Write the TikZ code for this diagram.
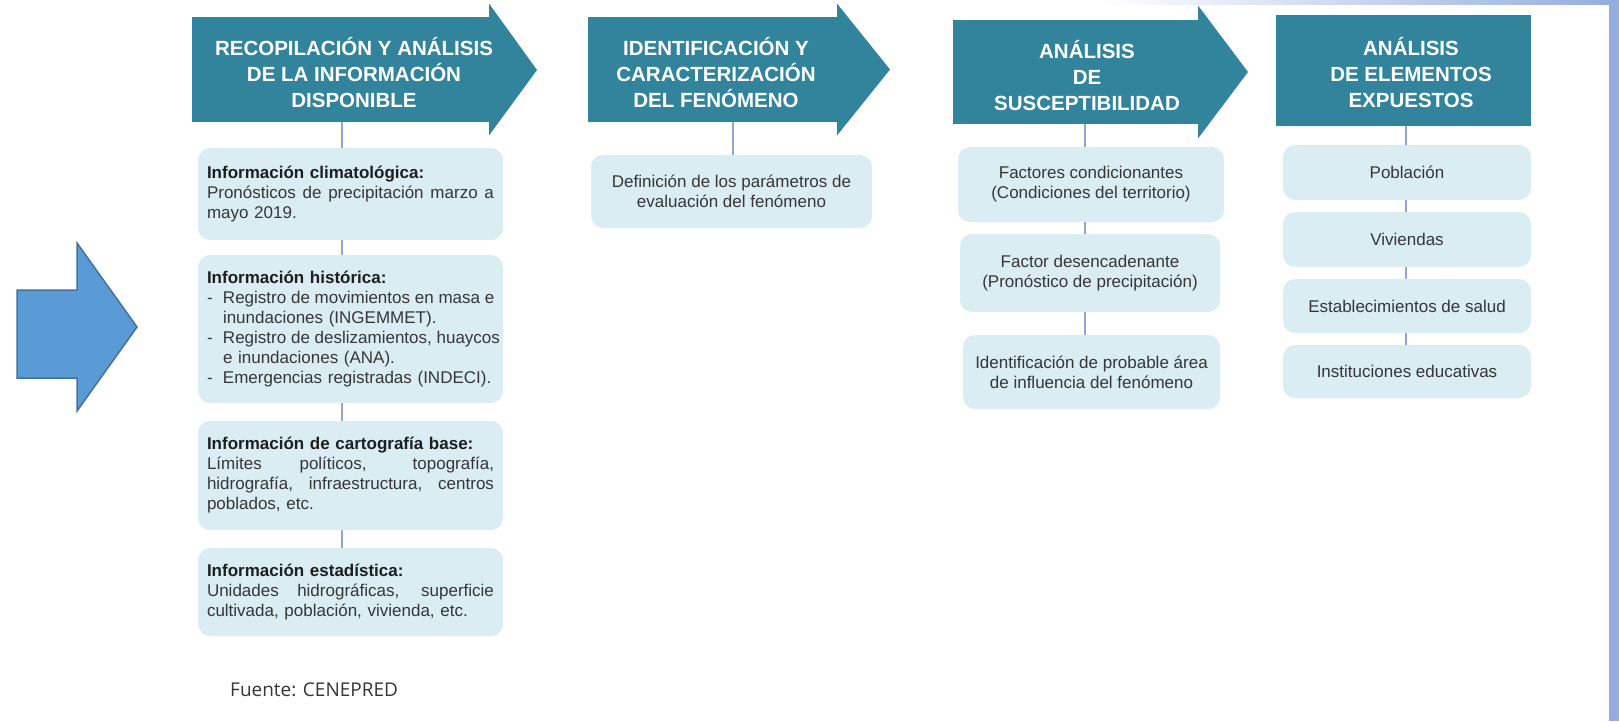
\documentclass[tikz,border=0pt]{standalone}
\usepackage{fontspec}
\setmainfont{Liberation Sans}
\newfontfamily\fuentefont{Open Sans}
\usetikzlibrary{calc}
\definecolor{hdrteal}{HTML}{31849B}
\definecolor{boxfill}{HTML}{DAEDF3}
\definecolor{connblue}{HTML}{8EA6D2}
\definecolor{bodygray}{HTML}{363636}
\definecolor{headdark}{HTML}{1E1E1E}
\definecolor{stripblue}{HTML}{94ACDF}
\definecolor{bigarrow}{HTML}{5B9BD5}
\definecolor{bigarrowline}{HTML}{41719C}
\newcommand{\jline}[2]{\leavevmode\hbox to #1{\spaceskip=0.28em plus 1fil\relax #2}}
\begin{document}
\begin{tikzpicture}[x=1pt,y=-1pt,
  hdrbox/.style={fill=hdrteal,draw=none,inner sep=0pt},
  hdrhead/.style={fill=hdrteal,draw=none},
  htxt/.style={text=white,font=\bfseries\fontsize{20.5}{26}\selectfont,align=center,inner sep=0pt},
  ibox/.style={fill=boxfill,draw=none,rounded corners=12pt,inner sep=0pt,text=bodygray,font=\fontsize{17}{20}\selectfont},
  lbox/.style={ibox,text width=287pt,align=left},
  cbox/.style={ibox,align=center},
  conn/.style={draw=connblue,line width=1.8pt}]
\useasboundingbox (0,0) rectangle (1619,721);
% background strips
\shade[left color=white,right color=stripblue] (1100,0) rectangle (1619,4.5);
\fill[stripblue] (1609,0) rectangle (1619,721);

% big left arrow
\draw[fill=bigarrow,draw=bigarrowline,line width=1.5pt,line join=miter]
  (17,290) -- (77,290) -- (77,243) -- (137,327) -- (77,411) -- (77,378) -- (17,378) -- cycle;

% header 1
\node[hdrbox,minimum width=298,minimum height=105] (h1) at (341,69.5) {};
\fill[hdrhead] ([xshift=-1pt]h1.north east) -- ([xshift=-1pt,yshift=13pt]h1.north east) -- (537,70) -- ([xshift=-1pt,yshift=-13pt]h1.south east) -- ([xshift=-1pt]h1.south east) -- cycle;
\node[htxt] (t1) at (354,73) {RECOPILACIÓN Y ANÁLISIS\\DE LA INFORMACIÓN\\DISPONIBLE};

% header 2
\node[hdrbox,minimum width=250,minimum height=105] (h2) at (713,69.5) {};
\fill[hdrhead] ([xshift=-1pt]h2.north east) -- ([xshift=-1pt,yshift=13pt]h2.north east) -- (890,69.5) -- ([xshift=-1pt,yshift=-13pt]h2.south east) -- ([xshift=-1pt]h2.south east) -- cycle;
\node[htxt] (t2) at (716,73) {IDENTIFICACIÓN Y\\CARACTERIZACIÓN\\DEL FENÓMENO};

% header 3
\node[hdrbox,minimum width=246,minimum height=104] (h3) at (1076,72) {};
\fill[hdrhead] ([xshift=-1pt]h3.north east) -- ([xshift=-1pt,yshift=14pt]h3.north east) -- (1248,72) -- ([xshift=-1pt,yshift=-14pt]h3.south east) -- ([xshift=-1pt]h3.south east) -- cycle;
\node[htxt] (t3) at (1087,76) {ANÁLISIS\\DE\\SUSCEPTIBILIDAD};

% header 4
\node[hdrbox,minimum width=255,minimum height=111] (h4) at (1403.5,70.5) {};
\node[htxt] (t4) at (1411,73) {ANÁLISIS\\DE ELEMENTOS\\EXPUESTOS};

% column 1
\node[lbox,minimum width=305,minimum height=92] (b11) at (350.5,194) {%
{\bfseries\color{headdark}Información climatológica:}\\
\jline{287pt}{Pronósticos de precipitación marzo a}\\
mayo 2019.};
\node[lbox,minimum width=305,minimum height=148] (b12) at (350.5,329) {%
{\bfseries\color{headdark}Información histórica:}\\
\makebox[16pt][l]{-}\jline{271pt}{Registro de movimientos en masa e}\\
\hspace*{16pt}inundaciones (INGEMMET).\\
\makebox[16pt][l]{-}\jline{271pt}{Registro de deslizamientos, huaycos}\\
\hspace*{16pt}e inundaciones (ANA).\\
\makebox[16pt][l]{-}Emergencias registradas (INDECI).};
\node[lbox,minimum width=305,minimum height=109] (b13) at (350.5,475.5) {%
{\bfseries\color{headdark}Información de cartografía base:}\\
\jline{287pt}{Límites políticos, topografía,}\\
\jline{287pt}{hidrografía, infraestructura, centros}\\
poblados, etc.};
\node[lbox,minimum width=305,minimum height=88] (b14) at (350.5,592) {%
{\bfseries\color{headdark}Información estadística:}\\
\jline{287pt}{Unidades hidrográficas, superficie}\\
cultivada, población, vivienda, etc.};
\coordinate (x1) at (342,0);
\draw[conn] (h1.south -| x1) -- (b11.north -| x1);
\draw[conn] (b11.south -| x1) -- (b12.north -| x1);
\draw[conn] (b12.south -| x1) -- (b13.north -| x1);
\draw[conn] (b13.south -| x1) -- (b14.north -| x1);

% column 2
\node[cbox,minimum width=281,minimum height=73] (b21) at (731.5,191.5) {Definición de los parámetros de\\evaluación del fenómeno};
\coordinate (x2) at (733,0);
\draw[conn] (h2.south -| x2) -- (b21.north -| x2);

% column 3
\node[cbox,minimum width=266,minimum height=75] (b31) at (1091,184.5) {Factores condicionantes\\(Condiciones del territorio)};
\node[cbox,minimum width=260,minimum height=78] (b32) at (1090,273) {Factor desencadenante\\(Pronóstico de precipitación)};
\node[cbox,minimum width=257,minimum height=74] (b33) at (1091.5,372) {Identificación de probable área\\de influencia del fenómeno};
\coordinate (x3) at (1085,0);
\draw[conn] (h3.south -| x3) -- (b31.north -| x3);
\draw[conn] (b31.south -| x3) -- (b32.north -| x3);
\draw[conn] (b32.south -| x3) -- (b33.north -| x3);

% column 4
\node[cbox,minimum width=248,minimum height=55] (b41) at (1407,172.5) {Población};
\node[cbox,minimum width=248,minimum height=55] (b42) at (1407,239.5) {Viviendas};
\node[cbox,minimum width=248,minimum height=54] (b43) at (1407,306) {Establecimientos de salud};
\node[cbox,minimum width=248,minimum height=53] (b44) at (1407,371.5) {Instituciones educativas};
\coordinate (x4) at (1406,0);
\draw[conn] (h4.south -| x4) -- (b41.north -| x4);
\draw[conn] (b41.south -| x4) -- (b42.north -| x4);
\draw[conn] (b42.south -| x4) -- (b43.north -| x4);
\draw[conn] (b43.south -| x4) -- (b44.north -| x4);

% source
\node[font=\fuentefont\fontsize{19}{22}\selectfont,text=bodygray,inner sep=0pt,anchor=west] (src) at (230,690) {Fuente: CENEPRED};
\end{tikzpicture}
\end{document}
